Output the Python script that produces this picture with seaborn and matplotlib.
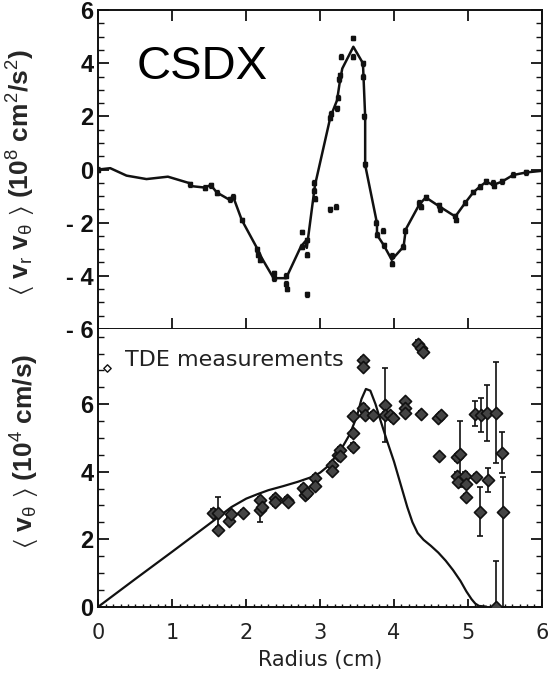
import numpy as np
import pandas as pd
import matplotlib
matplotlib.use("Agg")
import matplotlib.pyplot as plt
from matplotlib.ticker import MultipleLocator, FixedLocator
import seaborn as sns

# ---- Reynolds stress <v_r v_theta> (10^8 cm^2/s^2): fitted profile ----
rs_r = [0.00, 0.16, 0.38, 0.65, 0.94, 1.24, 1.24, 1.44, 1.52, 1.60, 1.78, 1.82,
        1.94, 2.16, 2.21, 2.37, 2.54, 2.74, 2.80, 2.82, 2.93, 3.14, 3.23, 3.27,
        3.30, 3.45, 3.58, 3.61, 3.61, 3.77, 3.77, 3.86, 3.97, 4.13, 4.16, 4.34,
        4.43, 4.62, 4.83, 4.96, 5.07, 5.16, 5.25, 5.34, 5.46, 5.61, 5.79, 6.00]
rs_v = [0.00, 0.05, -0.23, -0.36, -0.27, -0.52, -0.62, -0.68, -0.58, -0.86, -1.15, -1.00,
        -1.90, -3.03, -3.33, -4.09, -4.09, -2.90, -2.70, -2.95, -0.60, 1.98, 2.61, 3.36,
        3.80, 4.62, 4.00, 1.98, 0.17, -2.02, -2.46, -2.84, -3.40, -2.90, -2.25, -1.33,
        -1.05, -1.40, -1.77, -1.27, -0.87, -0.65, -0.46, -0.58, -0.46, -0.21, -0.11, -0.05]

# ---- Reynolds stress: measured points ----
rs_pt_r = [0.00, 1.24, 1.44, 1.52, 1.60, 1.78, 1.82, 1.94, 2.15, 2.16, 2.18, 2.37,
           2.37, 2.54, 2.54, 2.55, 2.75, 2.75, 2.82, 2.82, 2.82, 2.92, 2.92, 2.93,
           3.13, 3.22, 3.14, 3.15, 3.23, 3.24, 3.26, 3.27, 3.28, 3.45, 3.45, 3.58,
           3.58, 3.60, 3.61, 3.76, 3.77, 3.85, 3.86, 3.97, 3.97, 4.12, 4.15, 4.34,
           4.36, 4.43, 4.61, 4.62, 4.82, 4.84, 4.96, 5.07, 5.16, 5.25, 5.34, 5.35,
           5.46, 5.61, 5.79]
rs_pt_v = [0.00, -0.55, -0.68, -0.60, -0.88, -1.12, -1.02, -1.90, -3.00, -3.20, -3.40, -3.90,
           -4.10, -4.00, -4.30, -4.50, -2.35, -2.90, -2.65, -3.20, -4.70, -0.50, -0.80, -1.10,
           -1.50, -1.40, 1.95, 2.10, 2.30, 2.70, 3.40, 3.55, 4.25, 4.95, 4.25, 4.00,
           3.50, 2.00, 0.20, -2.00, -2.45, -2.30, -2.85, -3.25, -3.55, -2.90, -2.30, -1.25,
           -1.40, -1.05, -1.35, -1.50, -1.75, -1.90, -1.25, -0.85, -0.65, -0.45, -0.50, -0.62,
           -0.45, -0.20, -0.10]

# ---- Mean poloidal flow <v_theta> (10^4 cm/s): model profile ----
vt_r = [0.00, 0.50, 1.00, 1.50, 1.80, 2.00, 2.15, 2.30, 2.50, 2.70, 2.90, 3.00,
        3.10, 3.20, 3.30, 3.40, 3.50, 3.56, 3.62, 3.68, 3.75, 3.82, 3.90, 4.00,
        4.10, 4.18, 4.25, 4.32, 4.40, 4.50, 4.60, 4.70, 4.80, 4.90, 4.98, 5.05,
        5.10, 5.15, 5.25]
vt_v = [0.00, 0.82, 1.63, 2.45, 2.95, 3.20, 3.33, 3.45, 3.57, 3.70, 3.85, 3.97,
        4.15, 4.42, 4.72, 5.10, 5.65, 6.15, 6.45, 6.40, 6.00, 5.50, 4.95, 4.30,
        3.55, 2.95, 2.50, 2.18, 1.98, 1.80, 1.60, 1.36, 1.08, 0.76, 0.45, 0.22,
        0.09, 0.02, 0.00]

# ---- TDE measurements ----
tde_r = [1.55, 1.62, 1.62, 1.77, 1.80, 1.95, 2.19, 2.19, 2.21, 2.39, 2.39, 2.55,
         2.57, 2.77, 2.79, 2.82, 2.93, 2.93, 3.16, 3.16, 3.24, 3.27, 3.27, 3.45,
         3.45, 3.45, 3.58, 3.58, 3.58, 3.61, 3.72, 3.88, 3.88, 3.94, 3.99, 4.15,
         4.15, 4.15, 4.32, 4.37, 4.39, 4.37, 4.60, 4.64, 4.61, 4.85, 4.90, 4.85,
         4.87, 4.96, 4.98, 4.98, 5.11, 5.16, 5.27, 5.09, 5.18, 5.26, 5.38, 5.46,
         5.47, 5.38]
tde_v = [2.78, 2.78, 2.27, 2.55, 2.74, 2.78, 2.86, 3.16, 2.96, 3.21, 3.09, 3.16,
         3.11, 3.51, 3.31, 3.36, 3.80, 3.58, 4.20, 4.03, 4.50, 4.64, 4.45, 5.14,
         4.74, 5.65, 7.31, 7.10, 5.88, 5.68, 5.68, 5.98, 5.68, 5.68, 5.58, 6.08,
         5.88, 5.73, 7.79, 7.66, 7.55, 5.71, 5.58, 5.68, 4.45, 4.43, 4.53, 3.88,
         3.70, 3.88, 3.63, 3.26, 3.85, 2.81, 3.75, 5.71, 5.68, 5.75, 5.75, 4.56,
         2.81, 0.00]
tde_err_lo = [0.10, 0.47, 0.10, 0.10, 0.10, 0.08, 0.35, 0.10, 0.10, 0.10, 0.10, 0.08,
              0.08, 0.10, 0.10, 0.10, 0.10, 0.10, 0.10, 0.10, 0.10, 0.10, 0.10, 0.10,
              0.12, 0.10, 0.10, 0.10, 0.12, 0.10, 0.08, 1.10, 0.10, 0.10, 0.10, 0.08,
              0.08, 0.08, 0.10, 0.12, 0.10, 0.08, 0.08, 0.08, 0.08, 0.10, 0.98, 0.12,
              0.10, 0.10, 0.10, 0.08, 0.08, 0.73, 0.35, 0.37, 0.50, 0.83, 1.50, 0.60,
              2.81, 0.00]
tde_err_hi = [0.10, 0.47, 0.10, 0.10, 0.10, 0.08, 0.35, 0.10, 0.10, 0.10, 0.10, 0.08,
              0.08, 0.10, 0.10, 0.10, 0.10, 0.10, 0.10, 0.10, 0.10, 0.10, 0.10, 0.10,
              0.12, 0.10, 0.10, 0.10, 0.12, 0.10, 0.08, 1.10, 0.10, 0.10, 0.10, 0.08,
              0.08, 0.08, 0.10, 0.12, 0.10, 0.08, 0.08, 0.08, 0.08, 0.10, 0.98, 0.12,
              0.10, 0.10, 0.10, 0.08, 0.08, 0.73, 0.35, 0.37, 0.50, 0.83, 1.50, 0.60,
              1.04, 1.34]

top_yticks = [6, 4, 2, 0, -2, -4, -6]
top_yticklabels = ["6", "4", "2", "0", "- 2", "- 4", "- 6"]
bot_yticks = [0, 2, 4, 6]
bot_yticklabels = ["0", "2", "4", "6"]
xticks = [0, 1, 2, 3, 4, 5, 6]

sns.set_theme(style="ticks")
plt.rcParams["font.family"] = ["Liberation Sans", "DejaVu Sans"]
plt.rcParams["mathtext.fontset"] = "custom"
plt.rcParams["mathtext.rm"] = "Liberation Sans:bold"
plt.rcParams["mathtext.it"] = "Liberation Sans:bold"
plt.rcParams["mathtext.bf"] = "Liberation Sans:bold"
plt.rcParams["mathtext.sf"] = "Liberation Sans"
plt.rcParams["mathtext.fallback"] = "stixsans"

fig = plt.figure(figsize=(5.5, 6.74), dpi=100)
ax1 = fig.add_axes([0.179, 0.512, 0.806, 0.473])
ax2 = fig.add_axes([0.179, 0.100, 0.806, 0.412])

INK = "#111111"

# ---------- upper panel ----------
rs_line = pd.DataFrame({"r": rs_r, "v": rs_v})
sns.lineplot(data=rs_line, x="r", y="v", sort=False, estimator=None,
             color=INK, lw=1.8, ax=ax1)
ax1.errorbar(rs_pt_r, rs_pt_v, yerr=0.09, fmt="s", ms=2.2, color=INK,
             ecolor=INK, elinewidth=0.9, capsize=1.6, capthick=0.9, zorder=3)
ax1.text(0.52, 3.4, "CSDX", fontsize=34, color="black",
         family=["Liberation Sans", "DejaVu Sans"], va="baseline", ha="left")

ax1.set_xlim(0, 6)
ax1.set_ylim(-6, 6)
ax1.xaxis.set_major_locator(FixedLocator(xticks))
ax1.set_xticklabels([])
ax1.yaxis.set_major_locator(FixedLocator(top_yticks))
ax1.set_yticklabels(top_yticklabels)
ax1.yaxis.set_minor_locator(MultipleLocator(0.5))
ax1.set_xlabel("")
ax1.set_ylabel("$\u27e8$ v$_{\\mathsf{r}}$ v$_{\\mathsf{\\theta}}$ $\u27e9$ (10$^{\\mathsf{8}}$ cm$^{\\mathsf{2}}$/s$^{\\mathsf{2}}$)",
               fontsize=19, fontweight="bold")

# ---------- lower panel ----------
vt_line = pd.DataFrame({"r": vt_r, "v": vt_v})
sns.lineplot(data=vt_line, x="r", y="v", sort=False, estimator=None,
             color=INK, lw=1.6, ax=ax2)
ax2.errorbar(tde_r, tde_v, yerr=[tde_err_lo, tde_err_hi], fmt="none",
             ecolor=INK, elinewidth=1.2, capsize=2.5, capthick=1.2, zorder=3)
tde = pd.DataFrame({"r": tde_r, "v": tde_v})
sns.scatterplot(data=tde, x="r", y="v", marker="D", s=38, color="#444444",
                edgecolor=INK, linewidth=1.2, zorder=4, ax=ax2,
                label="TDE measurements", legend=False)

# legend entry: open diamond + label
ax2.scatter([0.115], [7.08], marker="D", s=14, facecolor="white",
            edgecolor=INK, linewidth=1.0, zorder=5)
ax2.text(0.36, 7.30, "TDE measurements", fontsize=16, color="#222222",
         family="DejaVu Sans", va="center", ha="left")

ax2.set_xlim(0, 6)
ax2.set_ylim(0, 8.23)
ax2.xaxis.set_major_locator(FixedLocator(xticks))
ax2.xaxis.set_minor_locator(MultipleLocator(0.1))
ax2.yaxis.set_major_locator(FixedLocator(bot_yticks))
ax2.set_yticklabels(bot_yticklabels)
ax2.yaxis.set_minor_locator(MultipleLocator(0.5))
ax2.set_xticklabels([str(t) for t in xticks])
ax2.set_xlabel("Radius (cm)", fontsize=15, color="#222222",
               family="DejaVu Sans", labelpad=5)
ax2.set_ylabel("$\u27e8$ v$_{\\mathsf{\\theta}}$ $\u27e9$ (10$^{\\mathsf{4}}$ cm/s)",
               fontsize=19, fontweight="bold")

for ax in (ax1, ax2):
    for sp in ax.spines.values():
        sp.set_visible(True)
        sp.set_linewidth(1.4)
        sp.set_color(INK)
    ax.tick_params(which="both", direction="in", color=INK)
    ax.tick_params(axis="y", which="major", length=8, width=1.3,
                   left=True, right=True, labelsize=17)
    ax.tick_params(axis="y", which="minor", length=4, width=1.0,
                   left=True, right=True)
    for lab in ax.get_yticklabels():
        lab.set_fontweight("bold")
        lab.set_color("#111111")

ax1.tick_params(axis="x", which="major", length=8, width=1.3, top=True, bottom=True)
ax1.tick_params(axis="x", which="minor", bottom=False, top=False)
ax2.tick_params(axis="x", which="major", length=6, width=1.3, top=False,
                bottom=True, labelsize=15, labelcolor="#222222", pad=12)
ax2.tick_params(axis="x", which="minor", length=2.5, width=1.0, top=False, bottom=True)
for lab in ax2.get_xticklabels():
    lab.set_family("DejaVu Sans")
ax2.spines["top"].set_visible(False)

ax1.yaxis.set_label_coords(-0.137, 0.49)
ax2.yaxis.set_label_coords(-0.128, 0.56)

fig.savefig("out.png", dpi=100, facecolor="white")
